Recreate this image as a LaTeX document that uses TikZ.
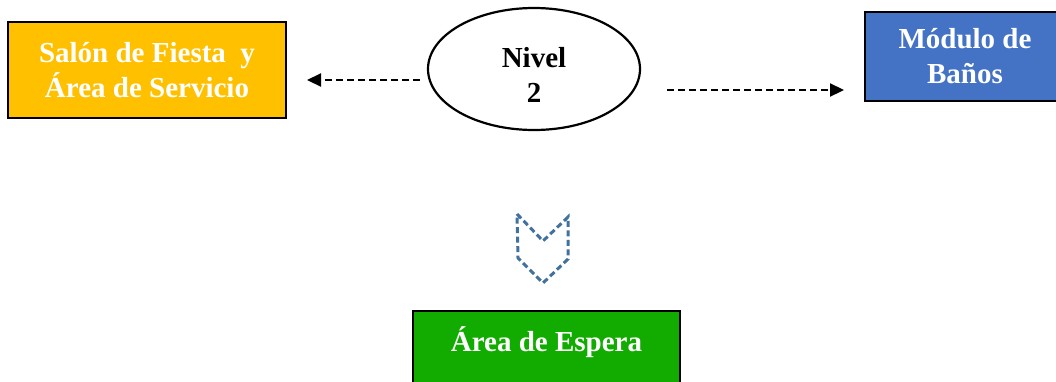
\documentclass[tikz,border=0pt]{standalone}
\usepackage{fontspec}
\setmainfont{Liberation Serif}
\usetikzlibrary{arrows.meta,shapes.geometric}
\definecolor{cyellow}{HTML}{FFC000}
\definecolor{cblue}{HTML}{4472C4}
\definecolor{cgreen}{HTML}{12AB00}
\definecolor{cchev}{HTML}{41719C}
\tikzset{
  box/.style={draw=black, line width=2pt, text=white, align=center,
    font=\fontsize{29}{35}\selectfont\bfseries, inner sep=3pt},
  dasharrow/.style={line width=2.2pt, dash pattern=on 7pt off 4pt,
    -{Triangle[length=14pt,width=13pt]}},
  txt/.style={align=center, font=\fontsize{29}{35}\selectfont\bfseries}
}
\begin{document}
\begin{tikzpicture}[x=1pt,y=-1pt]
\useasboundingbox (0,0) rectangle (1056,381);
\node[box, fill=cyellow, minimum width=278pt, minimum height=96pt] (salon) at (147,70)
  {Salón de Fiesta \ y\\Área de Servicio};
\node[box, fill=cblue, minimum width=200pt, minimum height=89pt] (banos) at (965,56.5)
  {Módulo de\\Baños};
\node[box, fill=cgreen, anchor=north, minimum width=267pt, text height=36pt, text depth=41pt, inner sep=4pt] (espera) at (546.5,310)
  {Área de Espera};
\node[draw=black, line width=2.2pt, ellipse, minimum width=212pt, minimum height=122pt, inner sep=0pt] (nivel) at (534,69) {};
\node[txt] (niveltxt) at (534,75) {Nivel\\2};
\coordinate (l1) at (420,80);
\coordinate (l2) at (307,80);
\coordinate (r1) at (667,90);
\coordinate (r2) at (844,90);
\draw[dasharrow] (l1) -- (l2);
\draw[dasharrow] (r1) -- (r2);
\draw[cchev, line width=3pt, dash pattern=on 6pt off 3.5pt, line join=miter]
  (517,214) coordinate (c1) -- (543,241) coordinate (c2) -- (568,217) coordinate (c3)
  -- (568,259) coordinate (c4) -- (543,283) coordinate (c5) -- (518,258) coordinate (c6) -- cycle;
\end{tikzpicture}
\end{document}
